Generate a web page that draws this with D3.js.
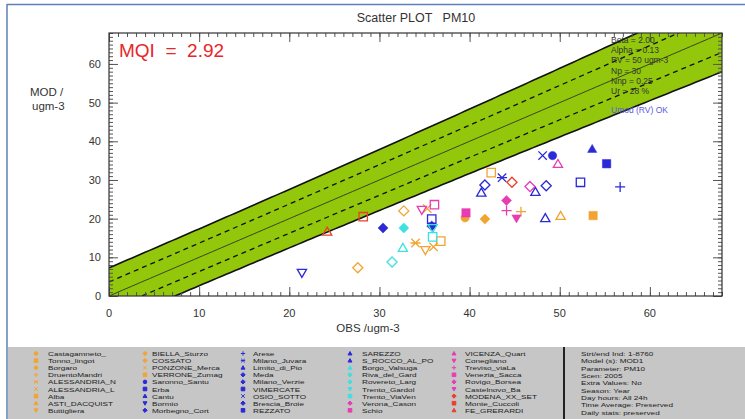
<!DOCTYPE html>
<html lang="en">
<head>
<meta charset="UTF-8" />
<script src="https://d3js.org/d3.v7.min.js"></script>
<style>
	body { margin: 0; background: #fff; }
	svg { display: block; font-family: "Liberation Sans", Arial, sans-serif; }
	.tick-lab { font-size: 11px; fill: #333; }
	.leg { font-size: 8.2px; fill: #222; }
</style>
</head>
<body>
<script>
// stations, in legend order (5 columns of 9)
var stations = [
	"Castagamneto_", "Tonno_lingot", "Borgaro", "DruentoMandri", "ALESSANDRIA_N", "ALESSANDRIA_L", "Alba", "ASTI_DACQUIST", "Buttigliera",
	"BIELLA_Sturzo", "COSSATO", "PONZONE_Merca", "VERRONE_Zumag", "Saronno_Santu", "Erba", "Cantu", "Bormio", "Morbegno_Cort",
	"Arese", "Milano_Juvara", "Limito_di_Pio", "Meda", "Milano_Verzie", "VIMERCATE", "OSIO_SOTTO", "Brescia_Broie", "REZZATO",
	"SAREZZO", "S_ROCCO_AL_PO", "Borgo_Valsuga", "Riva_del_Gard", "Rovereto_Larg", "Trento_Gardol", "Trento_ViaVen", "Verona_Cason", "Schio",
	"VICENZA_Quart", "Conegliano", "Treviso_viaLa", "Venezia_Sacca", "Rovigo_Borsea", "Castelnovo_Ba", "MODENA_XX_SET", "Monte_Cuccoli", "FE_GRERARDI"
];
// region group of every station (colour)
var groups = [
	"pie","pie","pie","pie","pie","pie","pie","pie","pie",
	"pie","pie","pie","pie","lom","lom","lom","lom","lom",
	"lom","lom","lom","lom","lom","lom","lom","lom","lom",
	"lom","lom","tre","tre","tre","tre","tre","ven","ven",
	"ven","ven","ven","ven","ven","ven","emr","emr","emr"
];
// marker of every station
var symbols = [
	"circleF","squareF","diamondF","plus","asterisk","cross","squareO","triO","dtriO",
	"diamondO","diamondO","cross","squareO","circleF","squareF","triF","dtriO","diamondF",
	"plus","asterisk","triO","diamondF","diamondO","squareO","cross","diamondO","squareO",
	"triO","triO","triO","diamondO","diamondF","dtriO","squareO","diamondF","squareO",
	"triO","dtriO","plus","squareF","diamondO","dtriF","diamondO","squareO","triO"
];
// yearly means (ugm-3)
var obs = [
	39.5, 53.7, 41.7, 45.7, 34.0, 36.0, 36.8, 50.1, 35.1,
	27.6, 32.7, 35.3, 42.4, 49.2, 55.2, 53.6, 21.4, 30.4,
	56.7, 43.6, 41.3, 35.8, 41.7, 52.3, 48.1, 48.5, 35.8,
	47.3, 48.4, 32.6, 31.4, 32.7, 35.9, 35.9, 44.1, 36.1,
	49.8, 34.7, 44.1, 39.6, 46.7, 45.2, 44.7, 28.2, 24.2
];
var mod = [
	20.2, 20.8, 19.9, 21.8, 13.7, 12.7, 14.2, 20.7, 11.9,
	7.3, 22.0, 22.6, 31.9, 36.3, 34.2, 38.0, 6.0, 17.6,
	28.2, 30.6, 26.7, 18.1, 28.7, 29.4, 36.3, 28.5, 19.9,
	26.9, 20.1, 12.4, 8.8, 17.6, 17.6, 15.3, 24.7, 23.6,
	34.1, 22.3, 22.1, 21.5, 28.3, 20.1, 29.4, 20.5, 16.6
];
var groupColors = { pie: "#f2a431", lom: "#2a2ad6", tre: "#3fe0e0", ven: "#e83cb4", emr: "#e8402a" };

var xTicks = [0, 10, 20, 30, 40, 50, 60];
var yTicks = [0, 10, 20, 30, 40, 50, 60];
var paramValues = [2.00, 0.13, 50, 30, 0.25, 0.28];   // beta, alpha, RV, Np, Nnp, Ur
var paramLabels = ["Beta = 2.00", "Alpha = 0.13", "RV = 50 ugm-3", "Np = 30", "Nnp = 0.25", "Ur = 28 %"];
var infoLines = ["Strt/end Ind: 1-8760", "Model (s): MOD1", "Parameter: PM10", "Scen: 2005", "Extra Values: No",
	"Season: Year", "Day hours: All 24h", "Time Average: Preserved", "Daily stats: preserved"];
var mqi = 2.92;

var W = 745, H = 419;
var svg = d3.select("body").append("svg").attr("width", W).attr("height", H);

var x = d3.scaleLinear().domain([0, 68]).range([109, 722]);
var y = d3.scaleLinear().domain([0, 68]).range([296, 33]);

// outer frame
svg.append("line").attr("x1", 7).attr("x2", W).attr("y1", 4.5).attr("y2", 4.5).attr("stroke", "#5b7fb8").attr("stroke-width", 1.5);
svg.append("line").attr("x1", 7).attr("x2", 7).attr("y1", 4).attr("y2", H).attr("stroke", "#5b7fb8").attr("stroke-width", 1.5);

// title
svg.append("text").attr("x", 416).attr("y", 22).attr("text-anchor", "middle")
	.style("font-size", "12.5px").attr("fill", "#333").attr("xml:space", "preserve").text("Scatter PLOT   PM10");

// MQO uncertainty band  |M - O| <= beta * U(O)
var beta = paramValues[0], alpha = paramValues[1], RV = paramValues[2], Np = paramValues[3], Nnp = paramValues[4], Ur = paramValues[5];
function U(o) { return Ur * Math.sqrt((1 - alpha * alpha) * o * o / Np + alpha * alpha * RV * RV / Nnp); }
var xs = d3.range(0, 68.01, 0.5);

svg.append("clipPath").attr("id", "pclip").append("rect")
	.attr("x", x(0)).attr("y", y(68)).attr("width", x(68) - x(0)).attr("height", y(0) - y(68));
var band = svg.append("g").attr("clip-path", "url(#pclip)");

var area = d3.area().x(function(d) { return x(d); })
	.y0(function(d) { return y(d - beta * U(d)); })
	.y1(function(d) { return y(d + beta * U(d)); });
band.append("path").datum(xs).attr("d", area).attr("fill", "#92c70c");

function lineAt(k) {
	return d3.line().x(function(d) { return x(d); }).y(function(d) { return y(d + k * U(d)); });
}
[beta, -beta].forEach(function(k) {
	band.append("path").datum(xs).attr("d", lineAt(k)).attr("fill", "none").attr("stroke", "#111").attr("stroke-width", 1.6);
});
[1, -1].forEach(function(k) {
	band.append("path").datum(xs).attr("d", lineAt(k)).attr("fill", "none").attr("stroke", "#111")
		.attr("stroke-width", 1.3).attr("stroke-dasharray", "5,4");
});
band.append("path").datum(xs).attr("d", lineAt(0)).attr("fill", "none").attr("stroke", "#222").attr("stroke-width", 0.8);

// axes with IDL style inward ticks on all four sides
function inward(axis, g) {
	g.call(axis);
	g.select(".domain").remove();
	g.selectAll("text").remove();
	g.selectAll("line").attr("stroke", "#555");
}
var minor = d3.range(0, 69, 1);
inward(d3.axisBottom(x).tickValues(minor).tickSize(-4), svg.append("g").attr("transform", "translate(0," + y(0) + ")"));
inward(d3.axisBottom(x).tickValues(xTicks).tickSize(-9), svg.append("g").attr("transform", "translate(0," + y(0) + ")"));
inward(d3.axisTop(x).tickValues(minor).tickSize(-4), svg.append("g").attr("transform", "translate(0," + y(68) + ")"));
inward(d3.axisTop(x).tickValues(xTicks).tickSize(-9), svg.append("g").attr("transform", "translate(0," + y(68) + ")"));
inward(d3.axisLeft(y).tickValues(minor).tickSize(-4), svg.append("g").attr("transform", "translate(" + x(0) + ",0)"));
inward(d3.axisLeft(y).tickValues(yTicks).tickSize(-9), svg.append("g").attr("transform", "translate(" + x(0) + ",0)"));
inward(d3.axisRight(y).tickValues(minor).tickSize(-4), svg.append("g").attr("transform", "translate(" + x(68) + ",0)"));
inward(d3.axisRight(y).tickValues(yTicks).tickSize(-9), svg.append("g").attr("transform", "translate(" + x(68) + ",0)"));

svg.append("rect").attr("x", x(0)).attr("y", y(68)).attr("width", x(68) - x(0)).attr("height", y(0) - y(68))
	.attr("fill", "none").attr("stroke", "#333").attr("stroke-width", 1.2);

svg.selectAll(".xl").data(xTicks).enter().append("text").attr("class", "tick-lab")
	.attr("x", function(d) { return x(d); }).attr("y", 317).attr("text-anchor", "middle").text(function(d) { return d; });
svg.selectAll(".yl").data(yTicks).enter().append("text").attr("class", "tick-lab")
	.attr("x", 101).attr("y", function(d) { return y(d) + 4; }).attr("text-anchor", "end").text(function(d) { return d; });

svg.append("text").attr("x", 368).attr("y", 332).attr("text-anchor", "middle").style("font-size", "11.5px").attr("fill", "#333").text("OBS /ugm-3");
svg.append("text").attr("x", 30).attr("y", 96).style("font-size", "11.5px").attr("fill", "#333").text("MOD /");
svg.append("text").attr("x", 32).attr("y", 110).style("font-size", "11.5px").attr("fill", "#333").text("ugm-3");

svg.append("text").attr("x", 119).attr("y", 57).style("font-size", "19px").attr("fill", "#e8262a")
	.attr("xml:space", "preserve").text("MQI  =  " + mqi.toFixed(2));

// parameters box
svg.selectAll(".par").data(paramLabels).enter().append("text")
	.attr("x", 611).attr("y", function(d, i) { return 43 + i * 10.2; })
	.style("font-size", "8.5px").attr("fill", "#333").text(function(d) { return d; });
svg.append("text").attr("x", 611).attr("y", 113).style("font-size", "8.5px").attr("fill", "#5a5ae0").text("Umod (RV) OK");

// marker shapes
function shape(t, r) {
	var s = r;
	switch (t.replace(/[FO]$/, "")) {
		case "circle": return "M" + (-s) + ",0A" + s + "," + s + " 0 1,0 " + s + ",0A" + s + "," + s + " 0 1,0 " + (-s) + ",0Z";
		case "square": return "M" + (-s) + "," + (-s) + "H" + s + "V" + s + "H" + (-s) + "Z";
		case "tri": return "M0," + (-s * 1.1) + "L" + (s * 1.1) + "," + (s * 0.8) + "H" + (-s * 1.1) + "Z";
		case "dtri": return "M0," + (s * 1.1) + "L" + (s * 1.1) + "," + (-s * 0.8) + "H" + (-s * 1.1) + "Z";
		case "diamond": return "M0," + (-s * 1.2) + "L" + (s * 1.2) + ",0L0," + (s * 1.2) + "L" + (-s * 1.2) + ",0Z";
		case "plus": return "M" + (-s * 1.2) + ",0H" + (s * 1.2) + "M0," + (-s * 1.2) + "V" + (s * 1.2);
		case "cross": return "M" + (-s) + "," + (-s) + "L" + s + "," + s + "M" + (-s) + "," + s + "L" + s + "," + (-s);
		case "asterisk": return "M" + (-s * 1.2) + ",0H" + (s * 1.2) + "M" + (-s) + "," + (-s) + "L" + s + "," + s + "M" + (-s) + "," + s + "L" + s + "," + (-s);
	}
}
function isFilled(t) { return /F$/.test(t); }

var pts = stations.map(function(s, i) { return { name: s, o: obs[i], m: mod[i], sym: symbols[i], col: groupColors[groups[i]] }; });
svg.append("g").selectAll("path").data(pts).enter().append("path")
	.attr("transform", function(d) { return "translate(" + x(d.o) + "," + y(d.m) + ")"; })
	.attr("d", function(d) { return shape(d.sym, 4.2); })
	.attr("fill", function(d) { return isFilled(d.sym) ? d.col : "none"; })
	.attr("stroke", function(d) { return d.col; })
	.attr("stroke-width", function(d) { return isFilled(d.sym) ? 0.5 : 1.3; });

// legend panel
svg.append("rect").attr("x", 8).attr("y", 347).attr("width", W - 8).attr("height", H - 347).attr("fill", "#c6c6c6");
svg.append("line").attr("x1", 564).attr("x2", 564).attr("y1", 347).attr("y2", H).attr("stroke", "#222").attr("stroke-width", 2);

// rows are packed tightly, so the legend text is squeezed vertically
var squeeze = "scale(1,0.74)";
var colMarkX = [36, 145, 243, 350, 454];
var colTextX = [48, 152, 253, 362, 465];
var leg = svg.append("g").selectAll("g").data(pts).enter().append("g")
	.attr("transform", function(d, i) { return "translate(0," + (356 + (i % 9) * 7.1) + ")"; });
leg.append("path")
	.attr("transform", function(d, i) { return "translate(" + colMarkX[Math.floor(i / 9)] + ",-2.5)"; })
	.attr("d", function(d) { return shape(d.sym, 1.8); })
	.attr("fill", function(d) { return d.col; }).attr("stroke", function(d) { return d.col; }).attr("stroke-width", 1);
leg.append("text").attr("class", "leg")
	.attr("transform", function(d, i) { return "translate(" + colTextX[Math.floor(i / 9)] + ",0) " + squeeze; })
	.text(function(d) { return d.name; });

svg.selectAll(".info").data(infoLines).enter().append("text").attr("class", "leg")
	.attr("transform", function(d, i) { return "translate(581," + (356 + i * 7.35) + ") " + squeeze; })
	.text(function(d) { return d; });
</script>
</body>
</html>
